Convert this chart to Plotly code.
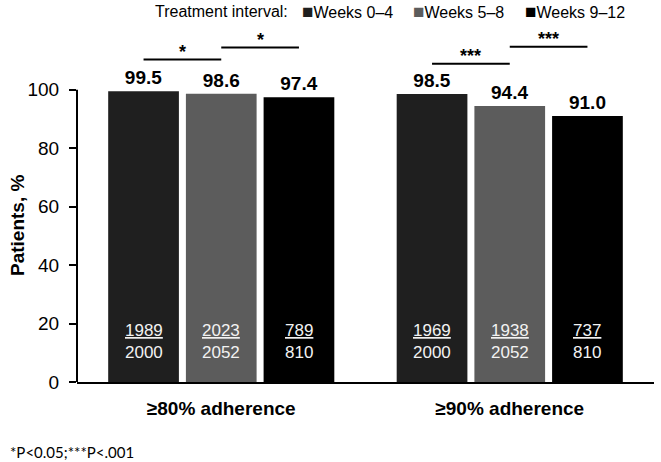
import plotly.graph_objects as go

# ---------------- data ----------------
categories = ["≥80% adherence", "≥90% adherence"]
series_names = ["Weeks 0–4", "Weeks 5–8", "Weeks 9–12"]
weeks_0_4 = [99.5, 98.5]
weeks_5_8 = [98.6, 94.4]
weeks_9_12 = [97.4, 91.0]
num_0_4 = [1989, 1969]
den_0_4 = [2000, 2000]
num_5_8 = [2023, 1938]
den_5_8 = [2052, 2052]
num_9_12 = [789, 737]
den_9_12 = [810, 810]
sig_first = ["*", "***"]    # Weeks 0–4 vs Weeks 5–8
sig_second = ["*", "***"]   # Weeks 5–8 vs Weeks 9–12
y_ticks = [0, 20, 40, 60, 80, 100]
legend_title = "Treatment interval:"
footnote = "*P<0.05;***P<.001"

# ---------------- style / layout constants ----------------
W, H = 661, 462
ML, MR, MT, MB = 77, 7, 40, 80
YMAX = 117
BARGAP, GROUPGAP = 0.192, 0.09
colors = ["#1f1f1f", "#5c5c5c", "#000000"]
FONT = "Liberation Sans, Arial, sans-serif"
bracket_y_first = [110.3, 108.9]
bracket_y_second = [114.4, 114.7]
legend_px = [302, 413, 525]
legend_title_px = 153

values = [weeks_0_4, weeks_5_8, weeks_9_12]
nums = [num_0_4, num_5_8, num_9_12]
dens = [den_0_4, den_5_8, den_9_12]

fig = go.Figure()
for i, name in enumerate(series_names):
    fig.add_trace(go.Bar(
        x=categories, y=values[i], name=name, offsetgroup=str(i),
        marker=dict(color=colors[i], line=dict(width=0)),
        texttemplate="%{y:.1f}", textposition="outside",
        textfont=dict(size=19, color="black", family=FONT, weight="bold"),
        cliponaxis=False, showlegend=False,
    ))

slot = (1 - BARGAP) / 3
shapes = []
annotations = []
for ci in range(len(categories)):
    centers = [ci + (i - 1) * slot for i in range(3)]
    # n/N fractions inside the bars
    for i in range(3):
        annotations.append(dict(
            x=centers[i], y=0, xref="x", yref="y",
            text=f"<u>{nums[i][ci]}</u><br>{dens[i][ci]}",
            showarrow=False, xanchor="center", yanchor="middle", yshift=41,
            font=dict(size=17, color="#f2f2f2", family=FONT)))
    for (xa, xb, yv, lab) in [(centers[0], centers[1], bracket_y_first[ci], sig_first[ci]),
                              (centers[1], centers[2], bracket_y_second[ci], sig_second[ci])]:
        shapes.append(dict(type="line", xref="x", yref="y", x0=xa, x1=xb, y0=yv, y1=yv,
                           line=dict(color="black", width=2)))
        annotations.append(dict(x=(xa + xb) / 2, y=yv, xref="x", yref="y", text=lab,
                                showarrow=False, yanchor="middle", yshift=8,
                                font=dict(size=18, color="black", family=FONT, weight="bold")))

# y axis line only from 0 to 100
shapes.append(dict(type="line", xref="paper", yref="y", x0=0, x1=0, y0=0, y1=100,
                   line=dict(color="black", width=2)))

plot_w = W - ML - MR
plot_h = H - MT - MB
def px_to_paper_x(px):
    return (px - ML) / plot_w
def py_to_paper_y(py):
    return (H - MB - py) / plot_h

# legend built as text
annotations.append(dict(x=px_to_paper_x(legend_title_px), y=py_to_paper_y(11), xref="paper", yref="paper",
                        text=legend_title, showarrow=False, xanchor="left", yanchor="middle",
                        font=dict(size=16, color="black", family=FONT)))
for i, name in enumerate(series_names):
    annotations.append(dict(x=px_to_paper_x(legend_px[i] - 2), y=py_to_paper_y(11), xref="paper", yref="paper",
                            text=f"<span style='color:{colors[i]};font-size:19px'>■</span>{name}",
                            showarrow=False, xanchor="left", yanchor="middle",
                            font=dict(size=16, color="black", family=FONT)))

# y title
annotations.append(dict(x=px_to_paper_x(17), y=py_to_paper_y(226), xref="paper", yref="paper",
                        text="Patients, %", textangle=-90, showarrow=False,
                        xanchor="center", yanchor="middle",
                        font=dict(size=19, color="black", family=FONT, weight="bold")))
# footnote
annotations.append(dict(x=px_to_paper_x(8), y=py_to_paper_y(452), xref="paper", yref="paper",
                        text=footnote, showarrow=False, xanchor="left", yanchor="middle",
                        font=dict(size=15, color="black", family="Lato, Carlito, sans-serif")))

fig.update_layout(
    width=W, height=H,
    margin=dict(l=ML, r=MR, t=MT, b=MB),
    paper_bgcolor="white", plot_bgcolor="white",
    barmode="group", bargap=BARGAP, bargroupgap=GROUPGAP,
    showlegend=False,
    shapes=shapes, annotations=annotations,
    font=dict(family=FONT, color="black"),
)
fig.update_xaxes(
    type="category", showline=True, linecolor="black", linewidth=2,
    ticks="", showgrid=False, zeroline=False,
    tickfont=dict(size=19, color="black", family=FONT, weight="bold"),
    ticklabelstandoff=8,
)
fig.update_yaxes(
    range=[0, YMAX], tickvals=y_ticks, showline=False, showgrid=False, zeroline=False,
    ticks="outside", ticklen=7, tickwidth=2, tickcolor="black",
    tickfont=dict(size=19, color="black", family=FONT),
    ticklabelstandoff=6,
)

fig.write_html("out.html", config={"displayModeBar": False},
               post_script="document.body.style.margin='0';document.body.style.overflow='hidden';")
